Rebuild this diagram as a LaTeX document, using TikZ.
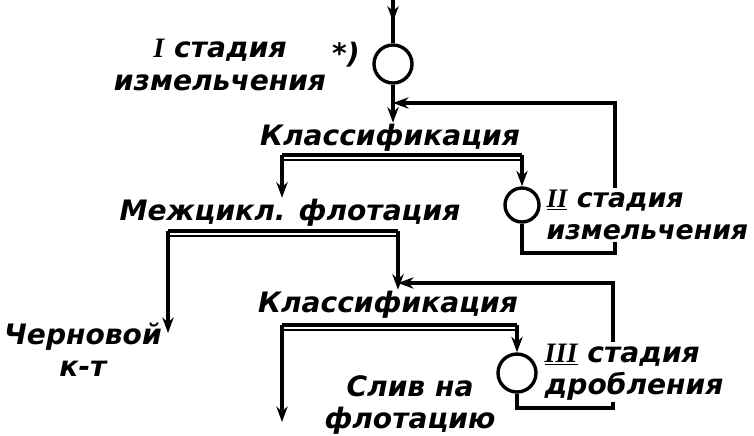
\documentclass[tikz,border=0pt]{standalone}
\usepackage{fontspec}
\newfontfamily\hand{DejaVu Sans}
\newfontfamily\numfont{Liberation Serif}
\usetikzlibrary{arrows.meta,decorations.markings}
\newcommand{\rn}[1]{{\numfont\bfseries\itshape #1}}
\begin{document}
\begin{tikzpicture}[
        x=0.025cm, y=-0.025cm,
        lettering/.style={inner sep=1pt, align=center, font=\hand\bfseries\itshape\fontsize{20}{23}\selectfont},
        mill/.style={circle, draw=black, line width=2.4pt, minimum size=0.95cm, inner sep=0pt},
        flow/.style={line width=2.4pt, -{Stealth[length=11pt,width=8pt]}},
        midflow/.style={line width=2.4pt, postaction={decorate},
            decoration={markings, mark=at position 0.5 with {\arrow{Stealth[length=11pt,width=8pt]}}}},
        bar/.style={line width=2.6pt, postaction={draw, line width=1.3pt, transform canvas={yshift=-3.8pt}}}
    ]
        \useasboundingbox (0,0) rectangle (754,435);

        % mills and texts
        \node (st1) [lettering] at (220,65) {\rn{I} стадия\\измельчения};
        \node (note) [lettering] at (346,55) {*)};
        \node (c1) [mill] at (393,64) {};
        \node (kl1) [lettering] at (390,138) {Классификация};
        \node (c2) [mill, minimum size=0.85cm] at (522,205) {};
        \node (mf) [lettering] at (290,213) {Межцикл. флотация};
        \node (kl2) [lettering] at (388,305) {Классификация};
        \node (chk) [lettering] at (83,350) {Черновой\\к-т};
        \node (c3) [mill] at (517,373) {};
        \node (sliv) [lettering] at (410,405) {Слив на\\флотацию};

        \coordinate (feed) at (393,0);
        \coordinate (j1) at (393,103);
        \coordinate (bar1w) at (282,155);
        \coordinate (bar1e) at (522,155);
        \coordinate (loop2) at (615,253);
        \coordinate (bar2w) at (168,231);
        \coordinate (bar2e) at (398,231);
        \coordinate (concend) at (168,333);
        \coordinate (j2) at (398,283);
        \coordinate (bar3w) at (282,325);
        \coordinate (bar3e) at (517,325);
        \coordinate (slivend) at (282,422);
        \coordinate (loop3) at (613,408);

        % first stage and classification
        \draw [midflow] (feed) -- (c1.north);
        \draw [flow] (c1.south) -- (c1.south |- kl1.north);
        \draw [bar] (bar1w) -- (bar1e);
        \draw [flow] (bar1w) -- (bar1w |- mf.north);
        \draw [flow] (bar1e) -- (c2.north);
        \draw [flow] (c2.south) |- (loop2) |- (j1);

        % flotation and second classification
        \draw [bar] (bar2w) -- (bar2e);
        \draw [flow] (bar2w) -- (concend);
        \draw [flow] (bar2e) -- (bar2e |- kl2.north);
        \draw [bar] (bar3w) -- (bar3e);
        \draw [flow] (bar3w) -- (slivend);
        \draw [flow] (bar3e) -- (c3.north);
        \draw [flow] (c3.south) |- (loop3) |- (j2);

        \node (st2) [lettering, align=left, fill=white, anchor=west, font=\hand\bfseries\itshape\fontsize{19}{23}\selectfont] at (545,215) {\underline{\rn{II}} стадия\\измельчения};
        \node (st3) [lettering, align=left, fill=white, anchor=west] at (543,372) {\underline{\rn{III}} стадия\\дробления};
    \end{tikzpicture}
\end{document}
